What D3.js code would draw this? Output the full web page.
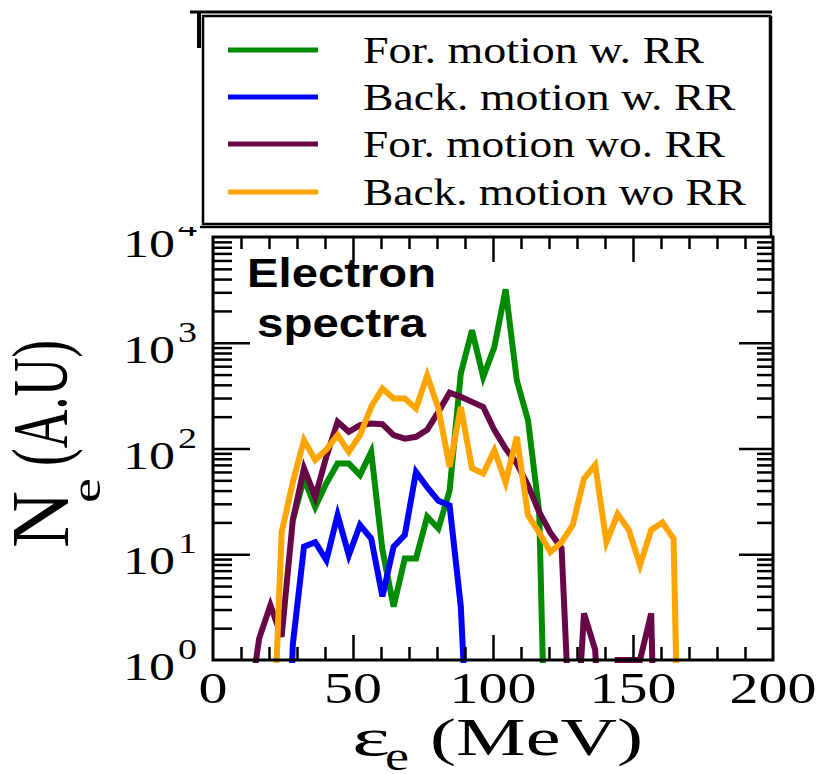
<!DOCTYPE html>
<html>
<head>
<meta charset="utf-8">
<script src="https://cdn.jsdelivr.net/npm/d3@7"></script>
<style>
  body { margin: 0; background: #fff; }
  svg { display: block; }
</style>
</head>
<body>
<div id="chart"></div>
<script>
// electron energy bins (MeV)
var energies = [12.5, 16.5, 20.5, 24.5, 28.5, 32.5, 36.5, 40.5, 44.5, 48.5,
                52.5, 56.5, 60.5, 64.5, 68.5, 72.5, 76.5, 80.5, 84.5, 88.5,
                92.5, 96.5, 100.5, 104.5, 108.5, 112.5, 116.5, 120.5, 124.5, 128.5,
                132.5, 136.5, 140.5, 144.5, 148.5, 152.5, 156.5, 160.5, 164.5, 168.5];

// counts per bin (null = no point), values below 1 fall off the axis
var forWithRR = [null, null, null, null, 21, 52, 28, 47, 72, 72,
                 56, 93, 11, 3.2, 9.1, 9.1, 22.6, 17.5, 40, 511,
                 1312, 475, 913, 3200, 442, 185, 25, 0.001, null, null,
                 null, null, null, null, null, null, null, null, null, null];
var backWithRR = [null, null, null, 0.001, 1.4, 11.8, 13, 8.8, 23.5, 9.8,
                  18.9, 14.1, 4, 11.8, 15.2, 60, 43, 32, 29, 3.2,
                  0.02, null, null, null, null, null, null, null, null, null,
                  null, null, null, null, null, null, null, null, null, null];
var forWithoutRR = [0.3, 1.6, 3.3, 1.66, 21, 65, 35, 84, 179, 144,
                    166, 172, 170, 134, 124, 129, 150, 222, 337, 308,
                    276, 247, 149, 100, 72, 45, 25, 16, 11.4, 0.05,
                    2.76, 1.25, 0.01, 1, 1, 1, 2.76, 0.0001, null, null];
var backWithoutRR = [null, null, 0.03, 16, 48, 120, 78, 98, 134, 93,
                     134, 248, 369, 297, 297, 239, 492, 239, 67, 247,
                     65, 58, 96, 48, 129, 23.4, 16, 10.5, 13, 19,
                     52, 70, 13, 24, 17, 7.9, 17, 20, 14, 0.0001];

var seriesNames = ["For. motion w. RR", "Back. motion w. RR", "For. motion wo. RR", "Back. motion wo RR"];
var seriesColors = ["#008b00", "#0000ff", "#670748", "#ffa500"];
var xTickValues = [0, 50, 100, 150, 200];
var yTickExps = [0, 1, 2, 3, 4];

function init(){
    var w = 824;
    var h = 774;
    var left = 213, right = 773, top = 237, bottom = 660;
    var serif = "'Liberation Serif', 'Times New Roman', serif";
    var sans = "'Liberation Sans', Arial, sans-serif";

    var svg = d3.select("#chart")
                .append("svg")
                .attr("width", w)
                .attr("height", h);

    var x = d3.scaleLinear().domain([0, 200]).range([left, right]);
    var y = d3.scaleLog().domain([1, 1e4]).range([bottom, top]);

    svg.append("clipPath").attr("id", "plotclip")
        .append("rect")
        .attr("x", left).attr("y", top)
        .attr("width", right - left).attr("height", bottom - top + 3);

    // data lines
    var allSeries = [forWithRR, backWithRR, forWithoutRR, backWithoutRR];
    var line = d3.line()
        .defined(function(d){ return d[1] != null; })
        .x(function(d){ return x(d[0]); })
        .y(function(d){ return y(d[1]); });

    svg.append("g").attr("clip-path", "url(#plotclip)")
        .selectAll("path")
        .data(allSeries)
        .enter()
        .append("path")
        .attr("d", function(s){
            return line(energies.map(function(e, i){ return [e, s[i]]; }));
        })
        .attr("fill", "none")
        .attr("stroke", function(d, i){ return seriesColors[i]; })
        .attr("stroke-width", 6);

    // ticks, all pointing inward
    var xMinor = d3.range(0, 201, 10).filter(function(v){ return v % 50 != 0; });
    var xMajor = [50, 100, 150];
    var yMinor = [];
    yTickExps.slice(0, 4).forEach(function(e){
        for (var m = 2; m < 10; m++) yMinor.push(m * Math.pow(10, e));
    });
    var yMajor = [10, 100, 1000];

    function tickGroup(axis, tx, ty){
        var g = svg.append("g").attr("transform", "translate(" + tx + "," + ty + ")").call(axis);
        g.select(".domain").remove();
        g.selectAll("line").attr("stroke", "#000").attr("stroke-width", 2.5);
        g.selectAll("text").remove();
    }
    tickGroup(d3.axisBottom(x).tickValues(xMinor).tickSize(-13), 0, bottom);
    tickGroup(d3.axisBottom(x).tickValues(xMajor).tickSize(-25), 0, bottom);
    tickGroup(d3.axisTop(x).tickValues(xMinor).tickSize(-12), 0, top);
    tickGroup(d3.axisTop(x).tickValues(xMajor).tickSize(-25), 0, top);
    tickGroup(d3.axisLeft(y).tickValues(yMinor).tickSize(-19), left, 0);
    tickGroup(d3.axisLeft(y).tickValues(yMajor).tickSize(-37), left, 0);
    tickGroup(d3.axisRight(y).tickValues(yMinor).tickSize(-16), right, 0);
    tickGroup(d3.axisRight(y).tickValues(yMajor).tickSize(-34), right, 0);

    svg.append("rect")
        .attr("x", left).attr("y", top)
        .attr("width", right - left).attr("height", bottom - top)
        .attr("fill", "none").attr("stroke", "#000").attr("stroke-width", 3);

    // x tick labels
    svg.selectAll(".xlab")
        .data(xTickValues)
        .enter()
        .append("text")
        .attr("class", "xlab")
        .text(function(d){ return d; })
        .attr("x", function(d){ return x(d) - String(d).length * 14.5; })
        .attr("y", 703)
        .attr("textLength", function(d){ return String(d).length * 29; })
        .attr("lengthAdjust", "spacingAndGlyphs")
        .attr("font-family", serif)
        .attr("font-size", 44);

    // y tick labels 10^n
    var ylab = svg.selectAll(".ylab")
        .data(yTickExps)
        .enter()
        .append("g")
        .attr("class", "ylab");
    ylab.append("text")
        .text("10")
        .attr("x", 123)
        .attr("y", function(d){ return y(Math.pow(10, d)) + 20; })
        .attr("textLength", 52)
        .attr("lengthAdjust", "spacingAndGlyphs")
        .attr("font-family", serif)
        .attr("font-size", 41);
    ylab.append("text")
        .text(function(d){ return d; })
        .attr("x", 178)
        .attr("y", function(d){ return y(Math.pow(10, d)) - 1; })
        .attr("textLength", 19)
        .attr("lengthAdjust", "spacingAndGlyphs")
        .attr("font-family", serif)
        .attr("font-size", 30);

    // axis titles
    svg.append("text").text("\u03b5").attr("x", 352).attr("y", 755)
        .attr("textLength", 38).attr("lengthAdjust", "spacingAndGlyphs")
        .attr("font-family", serif).attr("font-size", 52);
    svg.append("text").text("e").attr("x", 385).attr("y", 770)
        .attr("textLength", 24).attr("lengthAdjust", "spacingAndGlyphs")
        .attr("font-family", serif).attr("font-size", 40);
    svg.append("text").text("(MeV)").attr("x", 430).attr("y", 755)
        .attr("textLength", 213).attr("lengthAdjust", "spacingAndGlyphs")
        .attr("font-family", serif).attr("font-size", 52);

    svg.append("text").text("N")
        .attr("transform", "translate(68,548) rotate(-90)")
        .attr("textLength", 57).attr("lengthAdjust", "spacingAndGlyphs")
        .attr("font-family", serif).attr("font-size", 82);
    svg.append("text").text("e")
        .attr("transform", "translate(100,503) rotate(-90)")
        .attr("textLength", 25).attr("lengthAdjust", "spacingAndGlyphs")
        .attr("font-family", serif).attr("font-size", 42);
    svg.append("text").text("(A.U)")
        .attr("transform", "translate(66,466) rotate(-90)")
        .attr("textLength", 126).attr("lengthAdjust", "spacingAndGlyphs")
        .attr("font-family", serif).attr("font-size", 78);

    // annotation
    svg.append("text").text("Electron").attr("x", 247).attr("y", 287)
        .attr("textLength", 189).attr("lengthAdjust", "spacingAndGlyphs")
        .attr("font-family", sans).attr("font-weight", "bold").attr("font-size", 40);
    svg.append("text").text("spectra").attr("x", 257).attr("y", 337)
        .attr("textLength", 169).attr("lengthAdjust", "spacingAndGlyphs")
        .attr("font-family", sans).attr("font-weight", "bold").attr("font-size", 40);

    // white area above the plot cuts the top tick label
    svg.append("rect").attr("x", 100).attr("y", 0).attr("width", 724).attr("height", 227)
        .attr("fill", "#fff");

    // frame remnants of the panel above
    svg.append("line").attr("x1", 190).attr("x2", 772).attr("y1", 12).attr("y2", 12)
        .attr("stroke", "#000").attr("stroke-width", 3);
    svg.append("line").attr("x1", 199).attr("x2", 199).attr("y1", 11).attr("y2", 48)
        .attr("stroke", "#000").attr("stroke-width", 4);

    // legend
    var legend = svg.append("g");
    legend.append("rect")
        .attr("x", 203).attr("y", 16).attr("width", 567).attr("height", 208)
        .attr("fill", "#fff").attr("stroke", "#000").attr("stroke-width", 2.5);
    legend.append("line").attr("x1", 200).attr("x2", 772).attr("y1", 227).attr("y2", 227)
        .attr("stroke", "#000").attr("stroke-width", 2.5);
    legend.append("line").attr("x1", 771).attr("x2", 771).attr("y1", 16).attr("y2", 237)
        .attr("stroke", "#000").attr("stroke-width", 2.5);

    var rowY = [50, 97, 144, 192];
    var textLen = [341, 372, 362, 383];
    seriesNames.forEach(function(name, i){
        legend.append("line")
            .attr("x1", 228).attr("x2", 318)
            .attr("y1", rowY[i]).attr("y2", rowY[i])
            .attr("stroke", seriesColors[i]).attr("stroke-width", 5);
        legend.append("text").text(name)
            .attr("x", 363).attr("y", rowY[i] + 13)
            .attr("textLength", textLen[i]).attr("lengthAdjust", "spacingAndGlyphs")
            .attr("font-family", serif).attr("font-size", 38);
    });
}
window.onload = init;
</script>
</body>
</html>
